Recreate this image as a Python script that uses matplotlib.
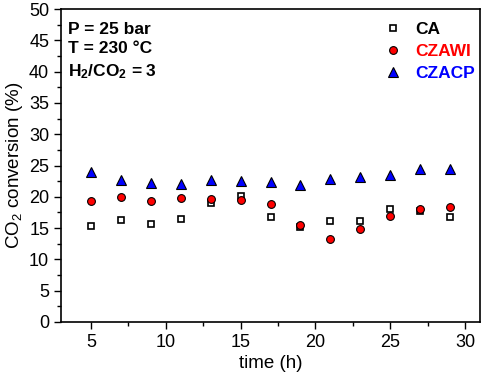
import matplotlib
matplotlib.use("Agg")
import matplotlib.pyplot as plt
from matplotlib.ticker import MultipleLocator

plt.rcParams['font.family'] = ['Liberation Sans', 'DejaVu Sans']
plt.rcParams['mathtext.default'] = 'regular'

time_h = [5, 7, 9, 11, 13, 15, 17, 19, 21, 23, 25, 27, 29]
ca = [15.4, 16.3, 15.7, 16.5, 19.0, 20.1, 16.7, 15.2, 16.2, 16.1, 18.1, 17.8, 16.8]
czawi = [19.3, 20.0, 19.4, 19.8, 19.6, 19.5, 18.8, 15.5, 13.2, 14.9, 17.0, 18.1, 18.3]
czacp = [23.9, 22.7, 22.2, 22.1, 22.7, 22.6, 22.3, 21.9, 22.8, 23.1, 23.5, 24.5, 24.4]

fig = plt.figure(figsize=(4.84, 3.82), dpi=100)
ax = fig.add_axes([61/484, 1 - 322/382, (480-61)/484, (322-9)/382])

ax.plot(time_h, ca, 's', ms=4.6, mfc='white', mec='black', mew=1.2, ls='none', label='CA')
ax.plot(time_h, czawi, 'o', ms=5.6, mfc='red', mec='black', mew=0.8, ls='none', label='CZAWI')
ax.plot(time_h, czacp, '^', ms=6.5, mfc='blue', mec='black', mew=0.8, ls='none', label='CZACP')

ax.set_xlim(3, 31)
ax.set_ylim(0, 50)
ax.xaxis.set_major_locator(MultipleLocator(5))
ax.xaxis.set_minor_locator(MultipleLocator(2.5))
ax.yaxis.set_major_locator(MultipleLocator(5))
ax.yaxis.set_minor_locator(MultipleLocator(2.5))
ax.tick_params(which='both', direction='out', top=False, right=False, labelsize=13)
ax.tick_params(which='major', length=5, width=1)
ax.tick_params(which='minor', length=3, width=1)
for s in ax.spines.values():
    s.set_linewidth(1.2)

ax.set_xlabel('time (h)', fontsize=13.5, labelpad=3)
ax.set_ylabel('CO$_2$ conversion (%)', fontsize=13.5, labelpad=3)

leg = ax.legend(loc='upper right', bbox_to_anchor=(1.008, 0.987), frameon=False, fontsize=12.5,
                handletextpad=0.5, borderaxespad=0.1, labelspacing=0.4, handlelength=1.5)
for t, c in zip(leg.get_texts(), ['black', 'red', 'blue']):
    t.set_color(c)
    t.set_fontweight('bold')

ax.text(0.016, 0.96, 'P = 25 bar\nT = 230 °C\nH$_2$/CO$_2$ = 3', transform=ax.transAxes,
        ha='left', va='top', fontsize=12.5, fontweight='bold', linespacing=1.4)

fig.savefig('out.png', dpi=100)
